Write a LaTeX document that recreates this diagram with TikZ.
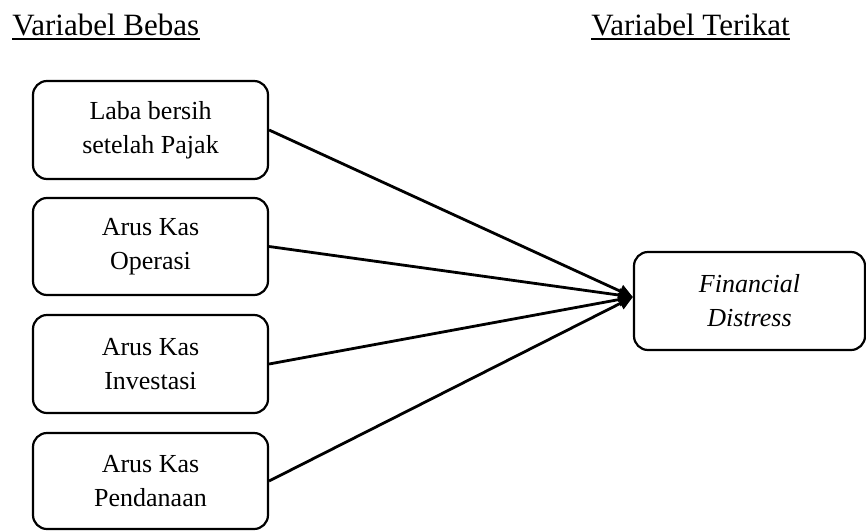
\documentclass[tikz,border=0pt]{standalone}
\usepackage{fontspec}
\setmainfont{Liberation Serif}
\usetikzlibrary{arrows.meta,calc}
\begin{document}
\begin{tikzpicture}[x=0.5pt,y=-0.5pt,
  varbox/.style={draw,line width=1.1pt,rounded corners=7pt,minimum width=117.5pt,minimum height=49pt,align=center,inner sep=0pt,font=\fontsize{13}{17}\selectfont},
  head/.style={anchor=base west,inner sep=0pt,font=\fontsize{15.5}{18}\selectfont},
  uline/.style={line width=1.4pt},
  link/.style={line width=1.4pt,-{Triangle[length=7pt,width=6.5pt]}}]
\useasboundingbox (0,0) rectangle (866,530);
\node[head] (hb) at (12,35) {Variabel Bebas};
\node[head] (ht) at (591,35) {Variabel Terikat};
\draw[uline] ([yshift=-2pt]hb.base west) -- ([yshift=-2pt]hb.base east);
\draw[uline] ([yshift=-2pt]ht.base west) -- ([yshift=-2pt]ht.base east);
\node[varbox] (b1) at (150.5,130) {Laba bersih\\setelah Pajak};
\node[varbox,minimum height=48.5pt] (b2) at (150.5,246.5) {Arus Kas\\Operasi};
\node[varbox] (b3) at (150.5,364) {Arus Kas\\Investasi};
\node[varbox,minimum height=48pt] (b4) at (150.5,481) {Arus Kas\\Pendanaan};
\node[varbox,minimum width=115.5pt,font=\fontsize{13}{17}\selectfont\itshape] (fd) at (749.5,301) {Financial\\Distress};
\coordinate (tip) at ($(fd.west)+(0,-4)$);
\draw[link] (b1.east) -- (tip);
\draw[link] (b2.east) -- (tip);
\draw[link] (b3.east) -- (tip);
\draw[link] (b4.east) -- (tip);
\end{tikzpicture}
\end{document}
